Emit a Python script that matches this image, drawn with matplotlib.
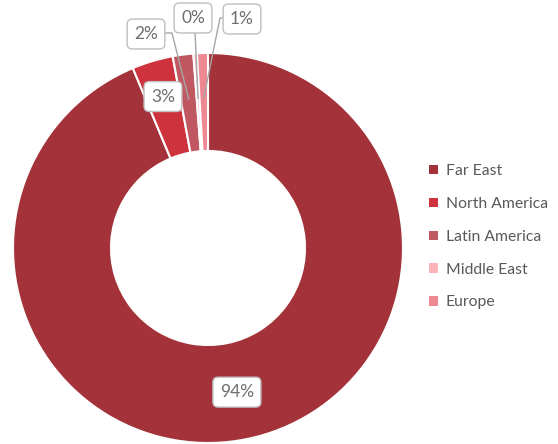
import numpy as np
import matplotlib
matplotlib.use("Agg")
import matplotlib.pyplot as plt
from matplotlib.patches import Patch

# data
regions = ["Far East", "North America", "Latin America", "Middle East", "Europe"]
shares = [93.7, 3.4, 1.7, 0.3, 0.9]
colors = ["#A4323A", "#CE323C", "#C05862", "#FAB4B9", "#EE8892"]

plt.rcParams['font.family'] = ['Lato', 'DejaVu Sans']

fig = plt.figure(figsize=(5.58, 4.44), dpi=100)
ax = fig.add_axes([0, 0, 1, 1])

cx, cy, R = 208, 444 - 248, 195
wedges, _ = ax.pie(shares, colors=colors, startangle=90, counterclock=False,
                   center=(cx, cy), radius=R, frame=True,
                   wedgeprops=dict(width=R - 97, edgecolor='white', linewidth=1.5))
ax.set_xlim(0, 558)
ax.set_ylim(0, 444)
ax.set_aspect('equal')
ax.axis('off')

box = dict(boxstyle='round,pad=0.4,rounding_size=0.3', fc='white', ec='#BFBFBF', lw=1)
line_c = '#A6A6A6'
lab_fs = 12.5

def mid_point(w, r):
    a = np.deg2rad((w.theta1 + w.theta2) / 2)
    return cx + r * np.cos(a), cy + r * np.sin(a)

pct = [f"{round(s)}%" for s in shares]

# big slices: label inside
x, y = mid_point(wedges[0], 147)
ax.text(x, y, pct[0], ha='center', va='center', fontsize=lab_fs, color='#6E6E6E', bbox=box)
x, y = mid_point(wedges[1], 158)
ax.text(x, y, pct[1], ha='center', va='center', fontsize=lab_fs, color='#6E6E6E', bbox=box)

# small slices: callouts with leader lines
callouts = [
    (2, (146, 444 - 34), [(172, 444 - 33), (163, 444 - 33)]),
    (3, (193, 444 - 18), [(195, 444 - 32)]),
    (4, (242, 444 - 19), [(220, 444 - 18), (227, 444 - 18)]),
]
for i, (bx, by), pts in callouts:
    ax0, ay0 = mid_point(wedges[i], 150)
    xs = [ax0] + [p[0] for p in pts]
    ys = [ay0] + [p[1] for p in pts]
    ax.plot(xs, ys, color=line_c, lw=1, zorder=3)
    ax.text(bx, by, pct[i], ha='center', va='center', fontsize=lab_fs, color='#6E6E6E',
            bbox=box, zorder=4)

handles = [Patch(facecolor=c, edgecolor='none') for c in colors]
leg = ax.legend(handles, regions, loc='upper left', bbox_to_anchor=(415 / 558, 1 - 150 / 444),
                frameon=False, fontsize=11.3, handlelength=0.55, handleheight=0.55,
                handletextpad=0.5, labelspacing=1.2, labelcolor='#595959')

fig.savefig('out.png', dpi=100)
